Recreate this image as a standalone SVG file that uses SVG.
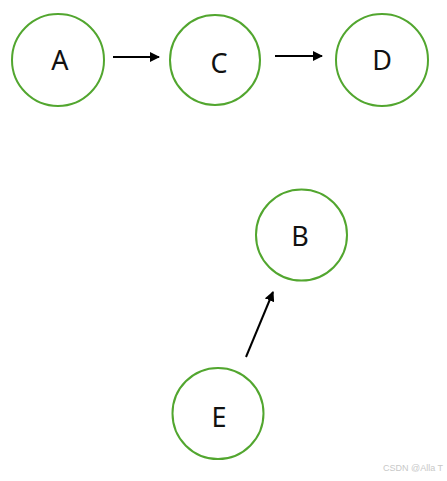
<svg xmlns="http://www.w3.org/2000/svg" width="447" height="481" viewBox="0 0 447 481">
<style>
.node circle{fill:#fff;stroke:#52a62f;stroke-width:2}
.node text{font-family:"Noto Sans","Liberation Sans",sans-serif;font-size:27px;fill:#111;text-anchor:middle}
.edge{stroke:#000;stroke-width:2;fill:none;marker-end:url(#ah)}
.wm{font-family:"Liberation Sans",sans-serif;font-size:9px;fill:#c8c8c8}
</style>
<defs>
<marker id="ah" viewBox="0 0 10 10" refX="9" refY="5" markerWidth="5" markerHeight="5" orient="auto" markerUnits="strokeWidth">
<path d="M0,0 L10,5 L0,10 z" fill="#000"/>
</marker>
</defs>
<rect width="447" height="481" fill="#fff"/>
<g id="A" class="node"><circle cx="58" cy="60" r="46"/><text x="60" y="70">A</text></g>
<g id="C" class="node"><circle cx="215" cy="60" r="45"/><text x="219" y="73">C</text></g>
<g id="D" class="node"><circle cx="382" cy="60" r="46"/><text x="382" y="70">D</text></g>
<g id="B" class="node"><circle cx="301.5" cy="235" r="45.5"/><text x="300" y="246">B</text></g>
<g id="E" class="node"><circle cx="218" cy="413.5" r="45.5"/><text x="219" y="427">E</text></g>
<g id="connectors">
<line class="edge" x1="113" y1="57" x2="159" y2="57"/>
<line class="edge" x1="275" y1="56" x2="322" y2="56"/>
<line class="edge" x1="246" y1="357" x2="273" y2="292"/>
</g>
<text class="wm" x="383" y="471">CSDN @Alla T</text>
</svg>
